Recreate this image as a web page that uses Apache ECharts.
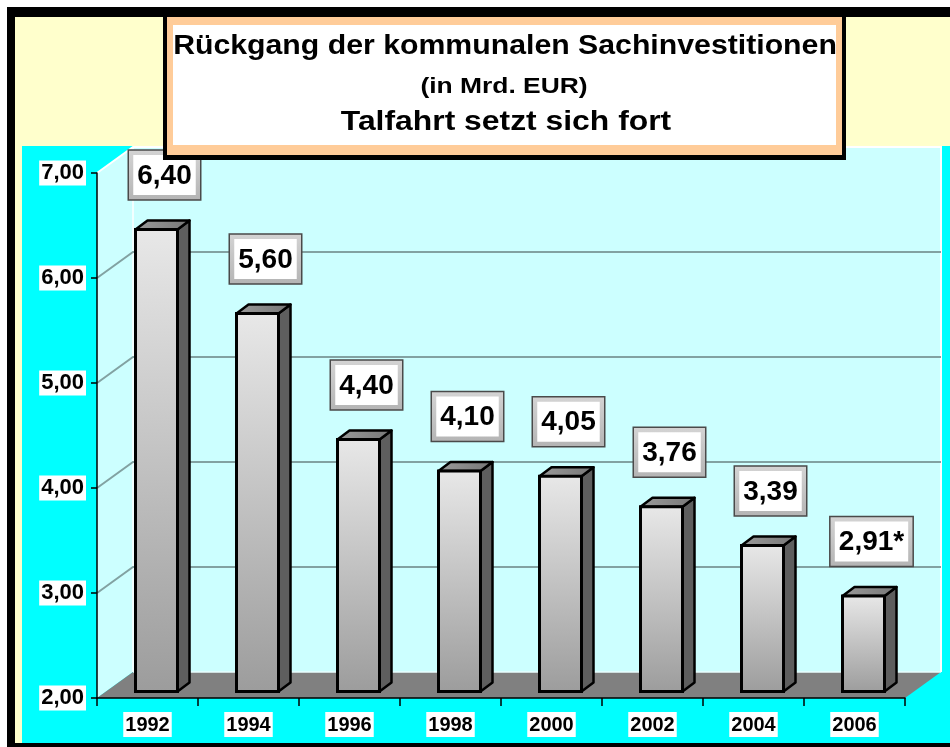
<!DOCTYPE html>
<html>
<head>
<meta charset="utf-8">
<title>Rückgang der kommunalen Sachinvestitionen</title>
<script src="https://cdn.jsdelivr.net/npm/echarts@6/dist/echarts.min.js"></script>
<style>
html, body { margin: 0; padding: 0; background: #fff; }
#main { width: 950px; height: 747px; }
</style>
</head>
<body>
<div id="main"></div>
<script>
// data
var years = ['1992', '1994', '1996', '1998', '2000', '2002', '2004', '2006'];
var values = [6.40, 5.60, 4.40, 4.10, 4.05, 3.76, 3.39, 2.91];
var valueLabels = ['6,40', '5,60', '4,40', '4,10', '4,05', '3,76', '3,39', '2,91*'];
var yMin = 2, yMax = 7, yStep = 1;
var wallLines = [3, 4, 5, 6];

var FONT = '"Liberation Sans", Arial, Helvetica, sans-serif';
// 3D depth of the chart box
var DX = 36, DY = -26;

var myChart = echarts.init(document.getElementById('main'));

var measureCtx = document.createElement('canvas').getContext('2d');
measureCtx.font = 'bold 28px ' + FONT;

function fmt(v) {
    return v.toFixed(2).replace('.', ',');
}

// walls and floor
function renderWalls(params, api) {
    var cs = params.coordSys;
    var x0 = cs.x, y0 = cs.y, x1 = cs.x + cs.width, y1 = cs.y + cs.height;
    return {
        type: 'group',
        children: [
            { type: 'polygon', shape: { points: [[x0, y0], [x0 + DX, y0 + DY], [x0 + DX, y1 + DY], [x0, y1]] },
              style: { fill: '#ccffff' } },
            { type: 'rect', shape: { x: x0 + DX, y: y0 + DY, width: cs.width, height: cs.height },
              style: { fill: '#ccffff' } },
            { type: 'polygon', shape: { points: [[x0, y1], [x0 + DX, y1 + DY], [x1 + DX, y1 + DY], [x1, y1]] },
              style: { fill: '#808080' } },
            { type: 'polyline', shape: { points: [[x0, y0], [x0 + DX, y0 + DY], [x1 + DX, y0 + DY], [x1 + DX, y1 + DY]] },
              style: { stroke: '#ffffff', lineWidth: 2, fill: null } },
            { type: 'line', shape: { x1: x0 + DX, y1: y0 + DY, x2: x0 + DX, y2: y1 + DY },
              style: { stroke: '#ffffff', lineWidth: 1.5 } },
            { type: 'line', shape: { x1: x0 + DX, y1: y1 + DY, x2: x1 + DX, y2: y1 + DY },
              style: { stroke: '#e8ffff', lineWidth: 1.5 } }
        ]
    };
}

// gridlines on side and back wall
function renderWallLine(params, api) {
    var cs = params.coordSys;
    var x0 = cs.x, x1 = cs.x + cs.width;
    var y = api.coord([0, api.value(1)])[1];
    return {
        type: 'polyline',
        shape: { points: [[x0, y], [x0 + DX, y + DY], [x1 + DX, y + DY]] },
        style: { stroke: '#82a2a2', lineWidth: 2, fill: null }
    };
}

// 3D bar + boxed value label
function renderBar(params, api) {
    var i = api.value(0), v = api.value(1);
    var top = api.coord([i, v]);
    var base = api.coord([i, yMin]);
    var bw = 42, ox = 9, oy = -6.5, sw = 12, sh = 9;
    var x = top[0] + ox - bw / 2;
    var yt = top[1] + oy, yb = base[1] + oy;

    var text = valueLabels[params.dataIndex];
    var tw = measureCtx.measureText(text).width + 18;
    var bh = 50;
    var cx = top[0] + 17;
    var by = top[1] - 36;

    return {
        type: 'group',
        children: [
            { type: 'polygon', shape: { points: [[x + bw, yt], [x + bw + sw, yt - sh], [x + bw + sw, yb - sh], [x + bw, yb]] },
              style: { fill: '#5e5e5e', stroke: '#000', lineWidth: 2.5, lineJoin: 'round' } },
            { type: 'polygon', shape: { points: [[x, yt], [x + sw, yt - sh], [x + bw + sw, yt - sh], [x + bw, yt]] },
              style: { fill: new echarts.graphic.LinearGradient(0, 0, 1, 0, [
                    { offset: 0, color: '#9a9a9a' }, { offset: 1, color: '#777777' }]),
                    stroke: '#000', lineWidth: 2.5, lineJoin: 'round' } },
            { type: 'rect', shape: { x: x, y: yt, width: bw, height: yb - yt },
              style: { fill: new echarts.graphic.LinearGradient(0, 0, 0, 1, [
                    { offset: 0, color: '#e8e8e8' }, { offset: 1, color: '#9c9c9c' }]),
                    stroke: '#000', lineWidth: 3 } },
            { type: 'rect', shape: { x: cx - tw / 2, y: by - bh, width: tw, height: bh },
              style: { fill: new echarts.graphic.LinearGradient(0, 0, 0, 1, [
                    { offset: 0, color: '#d4d4d4' }, { offset: 1, color: '#b4b4b4' }]),
                    stroke: '#4a4a4a', lineWidth: 1.5 } },
            { type: 'rect', shape: { x: cx - tw / 2 + 5, y: by - bh + 5, width: tw - 10, height: bh - 10 },
              style: { fill: '#ffffff' } },
            { type: 'text', x: cx, y: by - bh / 2 + 1,
              style: { text: text, font: 'bold 28px ' + FONT, fill: '#000',
                       align: 'center', verticalAlign: 'middle' } }
        ]
    };
}

var option = {
    animation: false,
    backgroundColor: '#ffffff',
    grid: { left: 97, right: 45, top: 173, bottom: 49 },
    graphic: [
        // frame and backgrounds
        { type: 'rect', z: -10, shape: { x: 7, y: 7, width: 943, height: 740 }, style: { fill: '#000' } },
        { type: 'rect', z: -10, shape: { x: 15, y: 17, width: 935, height: 726 }, style: { fill: '#ffffcc' } },
        { type: 'rect', z: -10, shape: { x: 22, y: 146, width: 928, height: 597 }, style: { fill: '#00ffff' } },
        // title box
        { type: 'rect', z: 100, shape: { x: 163, y: 10, width: 683, height: 150 }, style: { fill: '#000' } },
        { type: 'rect', z: 100, shape: { x: 167, y: 17, width: 675, height: 138 }, style: { fill: '#ffcc99' } },
        { type: 'rect', z: 100, shape: { x: 173, y: 25, width: 663, height: 120 }, style: { fill: '#ffffff' } },
        { type: 'text', z: 101, x: 505, y: 47, scaleX: 1.12,
          style: { text: 'Rückgang der kommunalen Sachinvestitionen', font: 'bold 27px ' + FONT,
                   fill: '#000', align: 'center', verticalAlign: 'middle' } },
        { type: 'text', z: 101, x: 504, y: 87, scaleX: 1.2,
          style: { text: '(in Mrd. EUR)', font: 'bold 22px ' + FONT,
                   fill: '#000', align: 'center', verticalAlign: 'middle' } },
        { type: 'text', z: 101, x: 506, y: 123, scaleX: 1.18,
          style: { text: 'Talfahrt setzt sich fort', font: 'bold 27px ' + FONT,
                   fill: '#000', align: 'center', verticalAlign: 'middle' } }
    ],
    xAxis: {
        type: 'category',
        data: years,
        boundaryGap: true,
        z: 10,
        axisLine: { show: true, lineStyle: { color: '#000', width: 1.5 } },
        axisTick: { show: true, length: 8, lineStyle: { color: '#000', width: 1.5 } },
        axisLabel: {
            margin: 14,
            color: '#000',
            fontFamily: FONT,
            fontWeight: 'bold',
            fontSize: 20,
            backgroundColor: '#ffffff',
            padding: [3, 2, 2, 2]
        },
        splitLine: { show: false }
    },
    yAxis: {
        type: 'value',
        min: yMin,
        max: yMax,
        interval: yStep,
        z: 10,
        axisLine: { show: true, lineStyle: { color: '#000', width: 1.5 } },
        axisTick: { show: true, length: 6, lineStyle: { color: '#000', width: 1.5 } },
        axisLabel: {
            margin: 11,
            color: '#000',
            fontFamily: FONT,
            fontWeight: 'bold',
            fontSize: 22,
            backgroundColor: '#ffffff',
            padding: [2, 2, 1, 2],
            formatter: fmt
        },
        splitLine: { show: false }
    },
    series: [
        {
            name: 'walls',
            type: 'custom',
            z: 1,
            silent: true,
            renderItem: renderWalls,
            data: [[0, yMin]]
        },
        {
            name: 'gridlines',
            type: 'custom',
            z: 1.5,
            silent: true,
            renderItem: renderWallLine,
            data: wallLines.map(function (v) { return [0, v]; })
        },
        {
            name: 'Sachinvestitionen',
            type: 'custom',
            z: 3,
            renderItem: renderBar,
            data: values.map(function (v, i) { return [i, v]; })
        }
    ]
};

myChart.setOption(option);
</script>
</body>
</html>
